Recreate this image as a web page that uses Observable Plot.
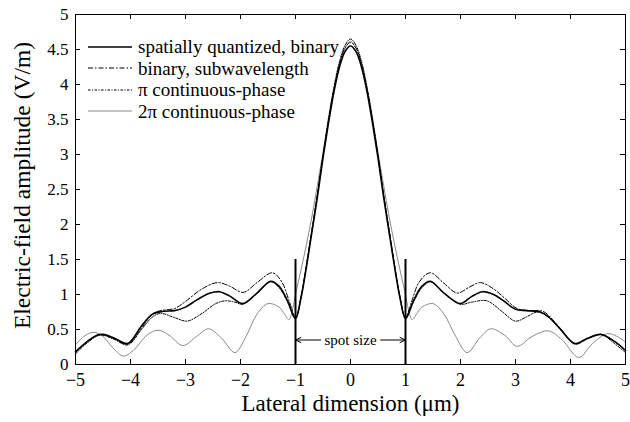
<!DOCTYPE html>
<html><head><meta charset="utf-8">
<script src="https://cdn.jsdelivr.net/npm/d3@7"></script>
<script src="https://cdn.jsdelivr.net/npm/@observablehq/plot@0.6"></script>
<style>
body{margin:0;background:#fff;}
#wrap{position:relative;width:630px;height:422px;font-family:'Liberation Serif','DejaVu Serif',serif;}
#legend{position:absolute;left:88px;top:36px;}
.row{display:flex;align-items:center;height:21.5px;line-height:21.5px;font-size:19px;color:#000;white-space:nowrap;font-family:'Liberation Serif','DejaVu Serif',serif;}
.row svg{margin-right:6px;}
</style></head><body><div id="wrap"><div id="legend"></div></div>
<script>
// ---- data ----
const xTicks = [-5,-4,-3,-2,-1,0,1,2,3,4,5];
const yTicks = [0,0.5,1,1.5,2,2.5,3,3.5,4,4.5,5];
const seriesNames = ["spatially quantized, binary","binary, subwavelength","\u03c0 continuous-phase","2\u03c0 continuous-phase"];

const quantized = [[-5,0.18],[-4.8,0.32],[-4.6,0.42],[-4.5,0.43],[-4.3,0.38],[-4.05,0.30],[-3.8,0.55],[-3.6,0.72],[-3.4,0.76],[-3.2,0.77],[-3.0,0.82],[-2.8,0.92],[-2.55,1.02],[-2.38,1.04],[-2.2,0.98],[-1.96,0.87],[-1.7,1.02],[-1.45,1.19],[-1.3,1.12],[-1.15,0.92],[-1.0,0.66],[-0.9,0.95],[-0.8,1.4],[-0.7,1.9],[-0.6,2.4],[-0.5,2.95],[-0.4,3.45],[-0.3,3.9],[-0.2,4.25],[-0.1,4.47],[0,4.55],[0.1,4.47],[0.2,4.25],[0.3,3.9],[0.4,3.45],[0.5,2.95],[0.6,2.4],[0.7,1.9],[0.8,1.4],[0.9,0.95],[1.0,0.66],[1.15,0.92],[1.3,1.12],[1.45,1.19],[1.7,1.02],[2.0,0.87],[2.2,0.97],[2.4,1.04],[2.6,1.0],[2.8,0.9],[3.0,0.79],[3.2,0.77],[3.45,0.75],[3.6,0.68],[3.8,0.52],[4.08,0.30],[4.3,0.37],[4.55,0.43],[4.8,0.33],[5.0,0.2]];

const subwavelength = [[-5,0.17],[-4.8,0.32],[-4.55,0.43],[-4.3,0.37],[-4.05,0.29],[-3.8,0.52],[-3.6,0.72],[-3.45,0.77],[-3.2,0.80],[-3.0,0.90],[-2.7,1.08],[-2.42,1.17],[-2.2,1.12],[-1.95,1.03],[-1.7,1.17],[-1.42,1.31],[-1.25,1.18],[-1.12,0.92],[-1.0,0.67],[-0.9,0.97],[-0.8,1.43],[-0.7,1.93],[-0.6,2.43],[-0.5,2.98],[-0.4,3.48],[-0.3,3.93],[-0.2,4.3],[-0.1,4.52],[0,4.6],[0.1,4.52],[0.2,4.3],[0.3,3.93],[0.4,3.48],[0.5,2.98],[0.6,2.43],[0.7,1.93],[0.8,1.43],[0.9,0.97],[1.0,0.67],[1.12,0.92],[1.25,1.18],[1.45,1.31],[1.7,1.16],[1.94,1.02],[2.15,1.10],[2.36,1.17],[2.6,1.08],[2.8,0.95],[3.03,0.80],[3.27,0.77],[3.5,0.76],[3.7,0.62],[3.9,0.42],[4.08,0.30],[4.3,0.37],[4.55,0.43],[4.8,0.33],[5.0,0.2]];

const piPhase = [[-5,0.15],[-4.8,0.30],[-4.55,0.42],[-4.3,0.36],[-4.05,0.28],[-3.8,0.50],[-3.6,0.68],[-3.45,0.73],[-3.2,0.67],[-2.97,0.62],[-2.7,0.73],[-2.45,0.87],[-2.27,0.91],[-2.1,0.89],[-1.96,0.86],[-1.7,1.02],[-1.45,1.18],[-1.3,1.10],[-1.15,0.90],[-1.0,0.65],[-0.9,0.96],[-0.8,1.42],[-0.7,1.93],[-0.6,2.45],[-0.5,3.0],[-0.4,3.52],[-0.3,3.97],[-0.2,4.33],[-0.1,4.56],[0,4.65],[0.1,4.56],[0.2,4.33],[0.3,3.97],[0.4,3.52],[0.5,3.0],[0.6,2.45],[0.7,1.93],[0.8,1.42],[0.9,0.96],[1.0,0.65],[1.15,0.90],[1.3,1.10],[1.45,1.18],[1.7,1.02],[2.0,0.86],[2.2,0.89],[2.48,0.91],[2.75,0.76],[3.0,0.62],[3.2,0.68],[3.4,0.75],[3.6,0.68],[3.85,0.48],[4.08,0.29],[4.3,0.36],[4.55,0.43],[4.8,0.30],[5.0,0.17]];

const twoPiPhase = [[-5,0.28],[-4.85,0.40],[-4.67,0.46],[-4.5,0.40],[-4.3,0.22],[-4.13,0.12],[-3.95,0.20],[-3.7,0.42],[-3.5,0.49],[-3.3,0.42],[-3.05,0.27],[-2.8,0.40],[-2.58,0.51],[-2.35,0.38],[-2.1,0.17],[-1.9,0.40],[-1.7,0.72],[-1.5,0.87],[-1.3,0.82],[-1.2,0.72],[-1.12,0.64],[-1.05,0.80],[-1.0,1.0],[-0.9,1.35],[-0.8,1.72],[-0.7,2.12],[-0.6,2.57],[-0.5,3.03],[-0.4,3.5],[-0.3,3.93],[-0.2,4.28],[-0.1,4.52],[0,4.62],[0.1,4.52],[0.2,4.28],[0.3,3.93],[0.4,3.5],[0.5,3.03],[0.6,2.57],[0.7,2.12],[0.8,1.72],[0.9,1.35],[1.0,1.0],[1.05,0.80],[1.12,0.64],[1.2,0.72],[1.3,0.82],[1.5,0.87],[1.7,0.72],[1.9,0.42],[2.12,0.17],[2.35,0.38],[2.55,0.51],[2.8,0.42],[3.03,0.26],[3.3,0.40],[3.6,0.48],[3.85,0.35],[4.15,0.10],[4.4,0.30],[4.67,0.44],[4.85,0.40],[5.0,0.32]];

const spotEdges = [-1, 1];
const spotLineTop = 1.5;
const spotArrowY = 0.35;
const spotLabel = "spot size";

// ---- styles ----
const styles = [
  {stroke:"#000", strokeWidth:1.6, dash:null},
  {stroke:"#000", strokeWidth:1, dash:"5,2,1.5,2"},
  {stroke:"#000", strokeWidth:1, dash:"2.5,1.5,1,1.5"},
  {stroke:"#8a8a8a", strokeWidth:1, dash:null}
];
const allSeries = [quantized, subwavelength, piPhase, twoPiPhase];

const W=630,H=422,mL=75,mR=5,mT=14,mB=58;
const innerW=W-mL-mR, innerH=H-mT-mB;
const fmt = d => d < 0 ? "\u2212" + (-d) : String(d);
const font = "'Liberation Serif', 'DejaVu Serif', serif";

const lineMarks = allSeries.map((s,i) => Plot.line(s, {
  x: d=>d[0], y: d=>d[1], curve:"catmull-rom",
  stroke: styles[i].stroke, strokeWidth: styles[i].strokeWidth,
  strokeDasharray: styles[i].dash
})).reverse();

const chart = Plot.plot({
  width: W, height: H, marginLeft: mL, marginRight: mR, marginTop: mT, marginBottom: mB,
  style: {fontFamily: font, background: "white", color: "black", overflow: "visible"},
  x: {domain: [-5,5]}, y: {domain: [0,5]},
  marks: [
    Plot.axisX(xTicks, {tickSize: 0, tickPadding: 9, fontSize: 18, tickFormat: fmt, label: null, fontFamily: font}),
    Plot.axisY(yTicks, {tickSize: 0, tickPadding: 7, fontSize: 17, tickFormat: fmt, label: null, fontFamily: font}),
    Plot.tickX(xTicks, {x: d=>d, insetTop: innerH-5, stroke:"#000"}),
    Plot.tickX(xTicks, {x: d=>d, insetBottom: innerH-5, stroke:"#000"}),
    Plot.tickY(yTicks, {y: d=>d, insetRight: innerW-5, stroke:"#000"}),
    Plot.tickY(yTicks, {y: d=>d, insetLeft: innerW-5, stroke:"#000"}),
    ...lineMarks,
    Plot.ruleX(spotEdges, {x: d=>d, y1: 0, y2: spotLineTop, strokeWidth: 2, stroke:"#000"}),
    Plot.arrow(spotEdges, {x1: 0, x2: d=>d, y1: spotArrowY, y2: spotArrowY, stroke:"#000", strokeWidth:1, headLength: 9, headAngle: 50}),
    Plot.text([spotLabel], {x: 0, y: spotArrowY, text: d=>d, fontSize: 15, fill:"#000", stroke:"white", strokeWidth: 8, fontFamily: font}),
    Plot.frame({stroke: "#000", strokeWidth: 1}),
    Plot.text(["Lateral dimension (\u03bcm)"], {frameAnchor:"bottom", dy: 46, text:d=>d, fontSize: 23, fill:"#000", fontFamily: font}),
    Plot.text(["Electric-field amplitude (V/m)"], {frameAnchor:"left", textAnchor:"middle", dx: -53, dy: -4, rotate: -90, text:d=>d, fontSize: 23.5, fill:"#000", fontFamily: font})
  ]
});
const wrap = document.getElementById("wrap");
wrap.insertBefore(chart, wrap.firstChild);

// legend overlay
const legend = d3.select("#legend");
seriesNames.forEach((name,i) => {
  const row = legend.append("div").attr("class","row");
  const svg = row.append("svg").attr("width",44).attr("height",10);
  svg.append("line").attr("x1",0).attr("x2",44).attr("y1",5).attr("y2",5)
    .attr("stroke",styles[i].stroke).attr("stroke-width",styles[i].strokeWidth)
    .attr("stroke-dasharray",styles[i].dash);
  row.append("span").text(name);
});
</script></body></html>
